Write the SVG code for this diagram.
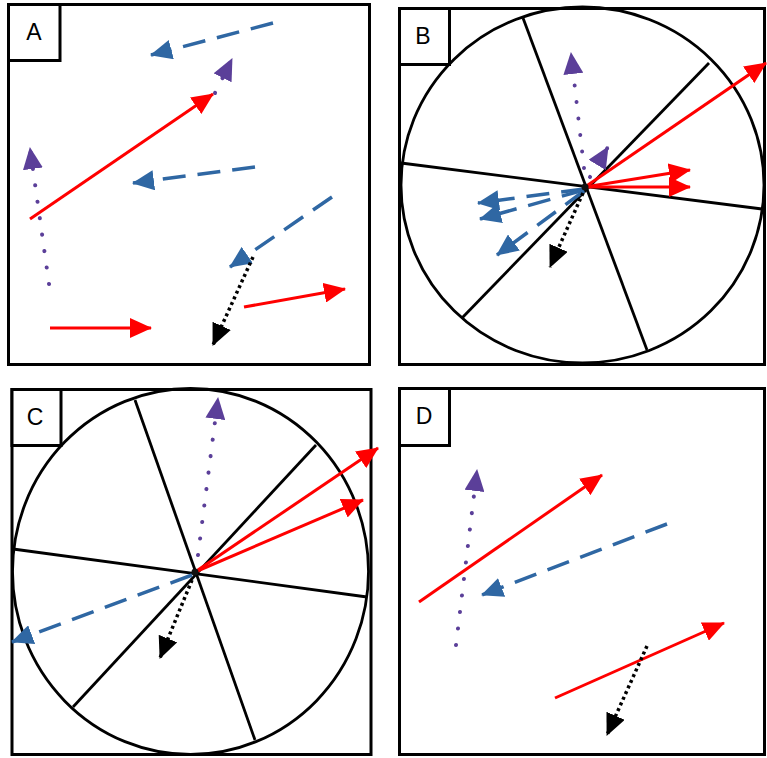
<svg xmlns="http://www.w3.org/2000/svg" width="767" height="758" viewBox="0 0 767 758">
<style>
.frame{fill:none;stroke:#000;stroke-width:3}
.lbl{fill:#fff;stroke:#000;stroke-width:3}
.txt{font-family:"Liberation Sans",Arial,sans-serif;font-size:23px;fill:#000;text-anchor:middle}
.wheel{fill:none;stroke:#000;stroke-width:2.8}
.spoke{stroke:#000;stroke-width:2.8;fill:none}
.red{stroke:#ff0000;stroke-width:3;fill:none;marker-end:url(#mr)}
.blue{stroke:#2f67a3;stroke-width:3.5;fill:none;stroke-dasharray:23 12;marker-end:url(#mb)}
.purple{stroke:#5b3f99;stroke-width:4;fill:none;stroke-dasharray:0.1 16.5;stroke-linecap:round;marker-end:url(#mp)}
.black{stroke:#000;stroke-width:3.5;fill:none;stroke-dasharray:3 3.2;marker-end:url(#mk)}
</style>
<defs>
<marker id="mr" markerUnits="userSpaceOnUse" markerWidth="22" markerHeight="20" refX="21" refY="10" orient="auto"><path d="M0,0 L22,10 L0,20 Z" fill="#ff0000"/></marker>
<marker id="mb" markerUnits="userSpaceOnUse" markerWidth="22" markerHeight="20" refX="21" refY="10" orient="auto"><path d="M0,0 L22,10 L0,20 Z" fill="#2f67a3"/></marker>
<marker id="mp" markerUnits="userSpaceOnUse" markerWidth="22" markerHeight="20" refX="21" refY="10" orient="auto"><path d="M0,0 L22,10 L0,20 Z" fill="#5b3f99"/></marker>
<marker id="mk" markerUnits="userSpaceOnUse" markerWidth="22" markerHeight="20" refX="21" refY="10" orient="auto"><path d="M0,0 L22,10 L0,20 Z" fill="#000"/></marker>
</defs>
<rect width="767" height="758" fill="#fff"/>

<g id="panel-a">
<rect class="frame" x="8.5" y="4.5" width="361" height="360"/>
<g id="connectors-a">
<line class="blue" x1="273" y1="23" x2="151" y2="55"/>
<line class="purple" x1="215" y1="93" x2="232" y2="59"/>
<line class="red" x1="30" y1="219" x2="213" y2="94"/>
<line class="purple" x1="49" y1="284" x2="30" y2="148"/>
<line class="blue" x1="255" y1="167" x2="133" y2="183"/>
<line class="blue" x1="332" y1="197" x2="230" y2="267"/>
<line class="black" x1="253" y1="257" x2="213" y2="345"/>
<line class="red" x1="244" y1="307" x2="345" y2="289"/>
<line class="red" x1="50" y1="328" x2="151" y2="328"/>
</g>
<rect class="lbl" x="8.5" y="4.5" width="51.5" height="56"/>
<text class="txt" x="34" y="40">A</text>
</g>

<g id="panel-b">
<rect class="frame" x="399.5" y="8.5" width="365" height="356"/>
<ellipse class="wheel" cx="582.5" cy="185" rx="181.5" ry="178"/>
<line class="spoke" x1="523" y1="18" x2="647" y2="350"/>
<line class="spoke" x1="709" y1="63" x2="462" y2="318"/>
<line class="spoke" x1="401" y1="163" x2="762" y2="209"/>
<g id="connectors-b">
<line class="red" x1="585" y1="187" x2="766" y2="63"/>
<line class="red" x1="585" y1="187" x2="690" y2="170"/>
<line class="red" x1="585" y1="187" x2="690" y2="187"/>
<line class="purple" x1="584" y1="168" x2="571" y2="53"/>
<line class="purple" x1="590" y1="177" x2="608" y2="147"/>
<line class="blue" x1="584" y1="189" x2="478" y2="203"/>
<line class="blue" x1="584" y1="190" x2="480" y2="219"/>
<line class="blue" x1="584" y1="191" x2="497" y2="255"/>
<line class="black" x1="583" y1="193" x2="550" y2="267"/>
</g>
<circle cx="585" cy="187" r="3.5" fill="#111"/>
<rect class="lbl" x="399.5" y="8.5" width="50" height="56"/>
<text class="txt" x="423" y="44">B</text>
</g>

<g id="panel-c">
<rect class="frame" x="12" y="389.5" width="359" height="365"/>
<ellipse class="wheel" cx="190.5" cy="571.5" rx="178" ry="183"/>
<line class="spoke" x1="135" y1="400" x2="255" y2="740"/>
<line class="spoke" x1="316" y1="445" x2="73" y2="707"/>
<line class="spoke" x1="13" y1="549" x2="367" y2="597"/>
<g id="connectors-c">
<line class="red" x1="195" y1="572" x2="378" y2="448"/>
<line class="red" x1="195" y1="572" x2="363" y2="500"/>
<line class="purple" x1="198" y1="555" x2="218" y2="398"/>
<line class="blue" x1="192" y1="575" x2="12" y2="642"/>
<line class="black" x1="192" y1="580" x2="160" y2="658"/>
</g>
<circle cx="195" cy="572" r="3.5" fill="#111"/>
<rect class="lbl" x="12" y="389.5" width="49" height="56"/>
<text class="txt" x="35" y="425">C</text>
</g>

<g id="panel-d">
<rect class="frame" x="399.5" y="388.5" width="365" height="366"/>
<g id="connectors-d">
<line class="red" x1="419" y1="602" x2="602" y2="475"/>
<line class="blue" x1="667" y1="524" x2="482" y2="595"/>
<line class="purple" x1="456" y1="645" x2="477" y2="470"/>
<line class="red" x1="555" y1="698" x2="724" y2="623"/>
<line class="black" x1="647" y1="646" x2="607" y2="735"/>
</g>
<rect class="lbl" x="399.5" y="388.5" width="50" height="57"/>
<text class="txt" x="424" y="424">D</text>
</g>
</svg>
